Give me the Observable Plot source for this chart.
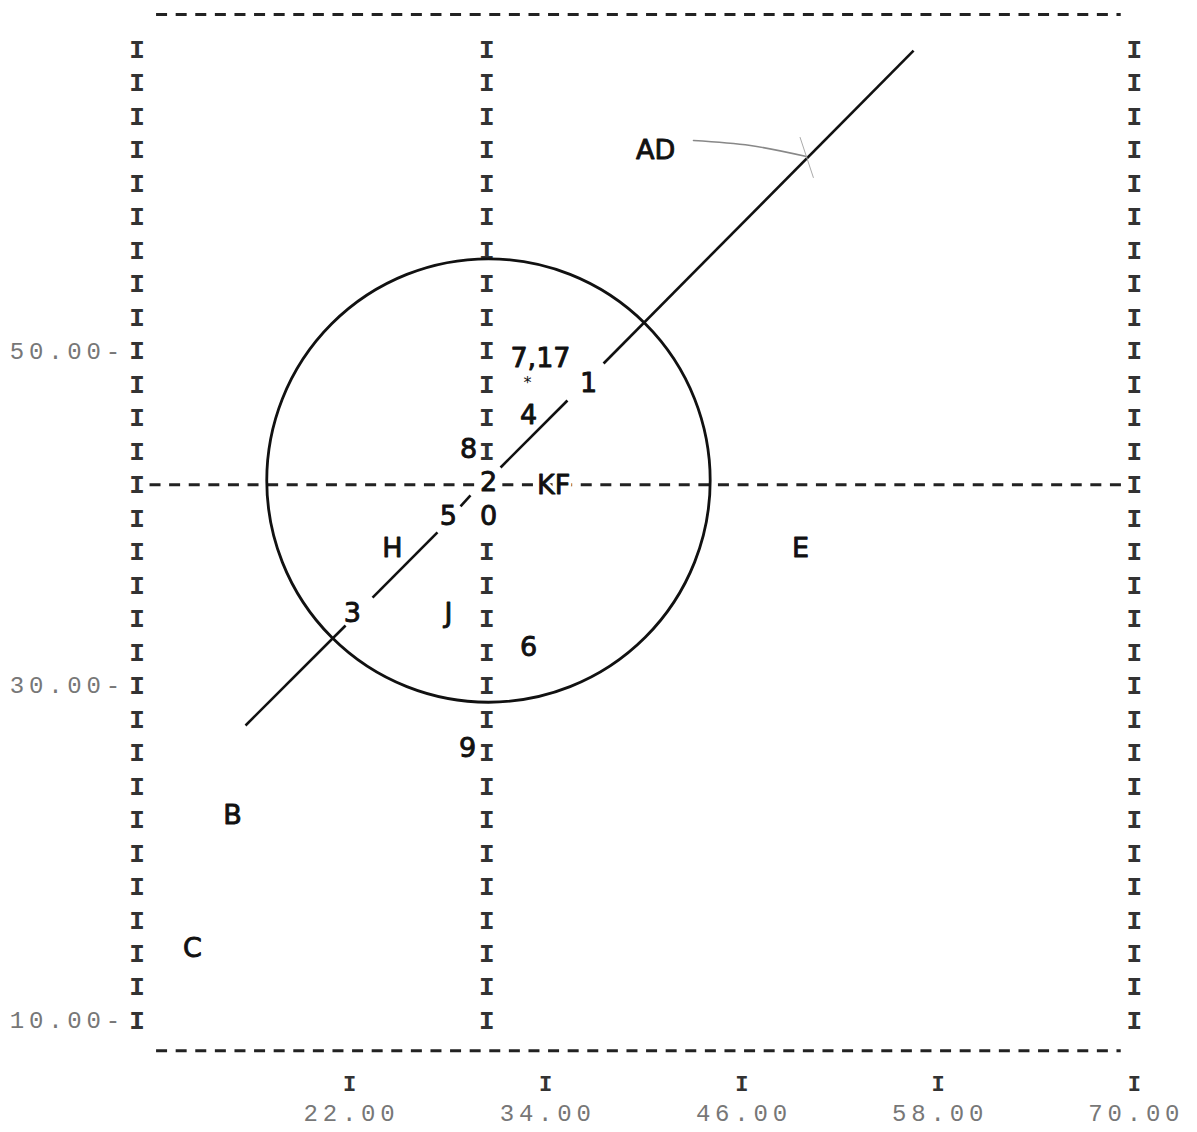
<!DOCTYPE html>
<html>
<head>
<meta charset="utf-8">
<script src="https://cdn.jsdelivr.net/npm/d3@7"></script>
<script src="https://cdn.jsdelivr.net/npm/@observablehq/plot@0.6"></script>
<style>
  body { margin: 0; background: #fff; }
</style>
</head>
<body>
<div id="chart"></div>
<script>
// ---- printer axis (line-printer plot) ----
const yTicks = [50, 30, 10];
const xTicks = [22, 34, 46, 58, 70];
const rowValues = [68, 66, 64, 62, 60, 58, 56, 54, 52, 50, 48, 46, 44, 42, 40, 38, 36, 34, 32, 30, 28, 26, 24, 22, 20, 18, 16, 14, 12, 10];
const borderCols = [9, 70];          // left / right "I" columns
const meanX = 30.4;                  // central "I" column
const meanY = 42;                    // central dashed row
const midColSkip = [42, 40];         // rows of central column overwritten by labels
const frameTop = 70.1, frameBottom = 8.2, frameLeft = 10.2, frameRight = 69.2;

// ---- hand-annotated points ----
const pointLabels = ["AD", "7,17", "1", "4", "8", "2", "KF", "5", "0", "H", "E", "3", "J", "6", "9", "B", "C"];
const pointX = [40.72, 33.68, 36.62, 32.95, 29.28, 30.50, 34.48, 28.05, 30.50, 24.63, 49.58, 22.18, 28.05, 32.95, 29.22, 14.84, 12.40];
const pointY = [61.97, 49.55, 48.06, 46.14, 44.11, 42.14, 41.96, 40.11, 40.11, 38.20, 38.20, 34.32, 34.32, 32.29, 26.26, 22.25, 14.31];
const starX = [32.89], starY = [48.12];

// ---- hand-drawn regression line (drawn in pieces around labels) ----
const segX1 = [15.64, 23.41, 28.79, 31.24, 37.54];
const segY1 = [27.63, 35.27, 40.71, 43.04, 49.25];
const segX2 = [21.76, 27.38, 29.40, 35.33, 56.50];
const segY2 = [33.60, 39.16, 41.37, 47.04, 67.94];

// ---- arrow from "AD" to the line ----
const arrowX = [43.04, 46.52, 49.95];
const arrowY = [62.57, 62.27, 61.61];
const arrowTickX = [49.56, 50.37];
const arrowTickY = [62.75, 60.36];

// ---- circle ----
const circleX = 30.5, circleY = 42.26, circleR = 13.4;

// ---- build tables ----
const points = pointLabels.map((t, i) => ({t, x: pointX[i], y: pointY[i]}));
const segments = segX1.map((_, i) => ({x1: segX1[i], y1: segY1[i], x2: segX2[i], y2: segY2[i]}));
const arrow = arrowX.map((x, i) => ({x, y: arrowY[i]}));
const cells = [];
for (const y of rowValues) {
  for (const x of borderCols) cells.push({x, y});
  if (!midColSkip.includes(y)) cells.push({x: meanX, y});
}

const W = 1197, H = 1132;
const xDomain = [6, 72], yDomain = [4, 70.5];
const mL = 87.4, mR = 30.5, mT = 7.2, mB = 11.4;
const kx = (W - mL - mR) / (xDomain[1] - xDomain[0]);
const ky = (H - mT - mB) / (yDomain[1] - yDomain[0]);
const circlePx = circleR * (kx + ky) / 2;

const printerFont = "Liberation Mono, DejaVu Sans Mono, monospace";
const handFont = "DejaVu Sans, Noto Sans, sans-serif";
const dash = {stroke: "#222", strokeWidth: 3, strokeDasharray: "11,8.6"};

const plot = Plot.plot({
  width: W,
  height: H,
  marginLeft: mL, marginRight: mR, marginTop: mT, marginBottom: mB,
  x: {domain: xDomain, axis: null},
  y: {domain: yDomain, axis: null},
  style: {background: "white"},
  marks: [
    // frame dashes
    Plot.ruleY([frameTop, frameBottom], {x1: () => frameLeft, x2: () => frameRight, ...dash}),
    Plot.ruleY([meanY], {x1: () => borderCols[0] + 0.8, x2: () => borderCols[1] - 0.6, ...dash}),
    // printer "I" columns
    Plot.text(cells, {x: "x", y: "y", text: () => "I", fontFamily: printerFont, fontSize: 26,
      fontWeight: "bold", fill: "#333"}),
    // y tick labels
    Plot.text(yTicks, {x: () => borderCols[0], y: d => d, text: d => d3.format(".2f")(d) + "-",
      textAnchor: "end", dx: -12, fontFamily: printerFont, fontSize: 24, fill: "#777"}),
    // x ticks
    Plot.text(xTicks, {x: d => d, y: () => frameBottom, text: () => "I", dy: 33,
      fontFamily: printerFont, fontSize: 22, fontWeight: "bold", fill: "#333"}),
    Plot.text(xTicks, {x: d => d, y: () => frameBottom, text: d => d3.format(".2f")(d), dy: 63,
      dx: 2, fontFamily: printerFont, fontSize: 24, fill: "#777"}),
    // circle
    Plot.dot([{x: circleX, y: circleY}], {x: "x", y: "y", r: circlePx, fill: "none",
      stroke: "#111", strokeWidth: 2.8}),
    // regression line pieces
    Plot.link(segments, {x1: "x1", y1: "y1", x2: "x2", y2: "y2", stroke: "#111", strokeWidth: 2.6}),
    // arrow
    Plot.line(arrow, {x: "x", y: "y", curve: "natural", stroke: "#888", strokeWidth: 1.6}),
    Plot.line(arrowTickX.map((x, i) => ({x, y: arrowTickY[i]})), {x: "x", y: "y", stroke: "#aaa", strokeWidth: 1}),
    // label halos then labels
    Plot.text(points, {x: "x", y: "y", text: "t", fontFamily: handFont, fontSize: 27,
      fill: "white", stroke: "white", strokeWidth: 7}),
    Plot.text(points, {x: "x", y: "y", text: "t", fontFamily: handFont, fontSize: 27, fill: "#111",
      stroke: "#111", strokeWidth: 0.9}),
    Plot.text(starX.map((x, i) => ({x, y: starY[i]})), {x: "x", y: "y", text: () => "*",
      fontFamily: handFont, fontSize: 16, fill: "#111"})
  ]
});
// printer spacing: 10 characters per inch
d3.select(plot).selectAll("text")
  .filter(function () { return /\d\.00/.test(this.textContent); })
  .style("letter-spacing", "4.8px");
document.getElementById("chart").appendChild(plot);
</script>
</body>
</html>
